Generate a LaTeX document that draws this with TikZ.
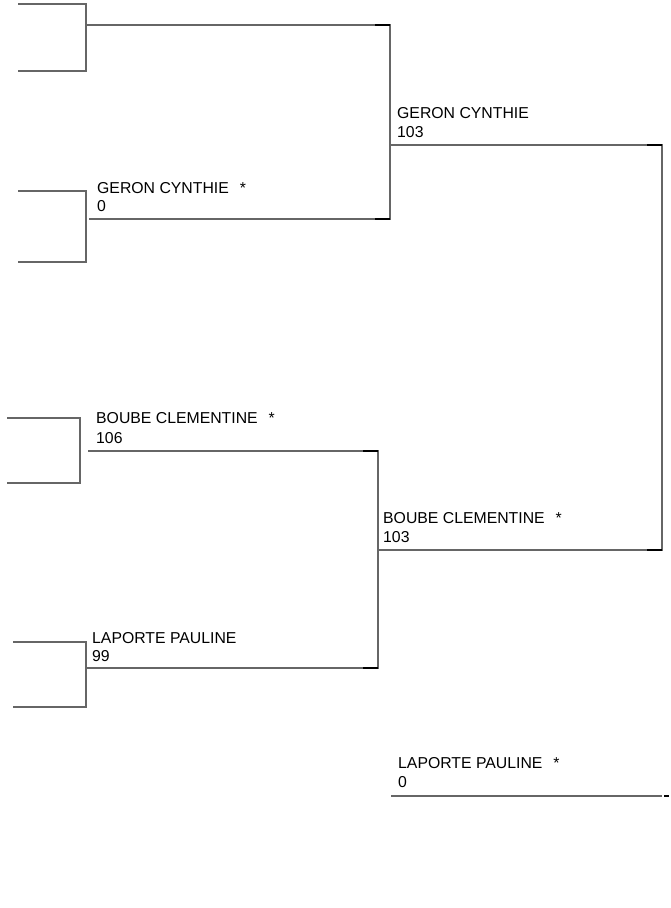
\documentclass[tikz,border=0pt]{standalone}
\usepackage{fontspec}
\setmainfont{Liberation Sans}
\begin{document}
\begin{tikzpicture}[x=1pt,y=-1pt,
  ln/.style={draw=black!60,line width=1.1pt},
  stub/.style={draw=black,line width=1.4pt},
  lbl/.style={inner sep=0pt,anchor=base west,font=\fontsize{15.8}{18}\selectfont}]
\useasboundingbox (0,0) rectangle (670,908);
% coordinates
\coordinate (a1) at (18,4); \coordinate (a2) at (86,4); \coordinate (a3) at (86,71); \coordinate (a4) at (18,71);
\coordinate (b1) at (18,191); \coordinate (b2) at (86,191); \coordinate (b3) at (86,262); \coordinate (b4) at (18,262);
\coordinate (c1) at (7,418); \coordinate (c2) at (80,418); \coordinate (c3) at (80,483); \coordinate (c4) at (7,483);
\coordinate (d1) at (13,642); \coordinate (d2) at (86,642); \coordinate (d3) at (86,707); \coordinate (d4) at (13,707);
\coordinate (ao) at (86,25); \coordinate (ae) at (390,25); \coordinate (as) at (375,25);
\coordinate (bo) at (89,219); \coordinate (be) at (390,219); \coordinate (bs) at (375,219);
\coordinate (co) at (88,451); \coordinate (ce) at (378,451); \coordinate (cs) at (363,451);
\coordinate (do) at (85,668); \coordinate (de) at (378,668); \coordinate (ds) at (363,668);
\coordinate (go) at (390,145); \coordinate (ge) at (662,145); \coordinate (gs) at (647,145);
\coordinate (ho) at (377,550); \coordinate (he) at (662,550); \coordinate (hs) at (647,550);
\coordinate (lo) at (391,796); \coordinate (le) at (662,796); \coordinate (ls1) at (664,796); \coordinate (ls2) at (669,796);
% first-round brackets
\draw[ln] (a1) -- (a2) -- (a3) -- (a4);
\draw[ln] (b1) -- (b2) -- (b3) -- (b4);
\draw[ln] (c1) -- (c2) -- (c3) -- (c4);
\draw[ln] (d1) -- (d2) -- (d3) -- (d4);
% second round
\draw[ln] (ao) -- (ae) -- (be) -- (bo);
\draw[ln] (co) -- (ce) -- (de) -- (do);
\draw[stub] (as) -- (ae); \draw[stub] (bs) -- (be);
\draw[stub] (cs) -- (ce); \draw[stub] (ds) -- (de);
% final
\draw[ln] (go) -- (ge) -- (he) -- (ho);
\draw[stub] (gs) -- (ge); \draw[stub] (hs) -- (he);
% third place
\draw[ln] (lo) -- (le);
\draw[stub] (ls1) -- (ls2);
% labels
\node[lbl] (n1) at (97,193) {GERON CYNTHIE\hspace{11pt}*};
\node[lbl] (s1) at (97,211) {0};
\node[lbl] (n2) at (397,118) {GERON CYNTHIE};
\node[lbl] (s2) at (397,137) {103};
\node[lbl] (n3) at (96,423) {BOUBE CLEMENTINE\hspace{11pt}*};
\node[lbl] (s3) at (96,443) {106};
\node[lbl] (n4) at (92,643) {LAPORTE PAULINE};
\node[lbl] (s4) at (92,661) {99};
\node[lbl] (n5) at (383,523) {BOUBE CLEMENTINE\hspace{11pt}*};
\node[lbl] (s5) at (383,542) {103};
\node[lbl] (n6) at (398,768) {LAPORTE PAULINE\hspace{11pt}*};
\node[lbl] (s6) at (398,787) {0};
\end{tikzpicture}
\end{document}
